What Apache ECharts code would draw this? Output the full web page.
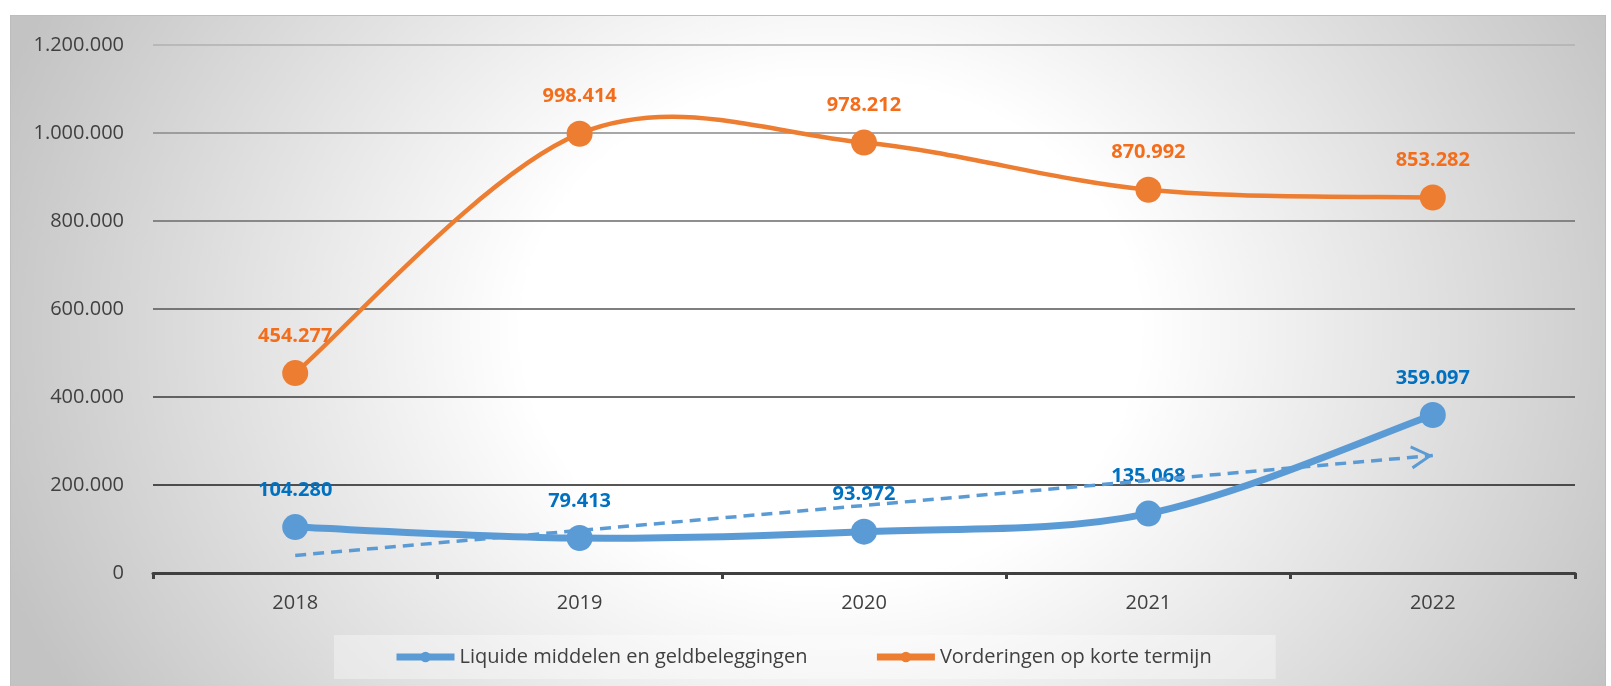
<!DOCTYPE html>
<html>
<head>
<meta charset="utf-8">
<script src="https://cdn.jsdelivr.net/npm/echarts@6.0.0/dist/echarts.min.js"></script>
<style>
  html, body { margin: 0; padding: 0; background: #fff; }
  #bg {
    position: absolute; left: 10px; top: 15px; width: 1594px; height: 680px;
    border-left: 1.5px solid #bdbdbd; border-top: 1.5px solid #bdbdbd; border-right: 1.5px solid #bdbdbd;
    background: radial-gradient(ellipse 880px 720px at 820px 315px, #ffffff 0%, #ffffff 35%, #c3c3c3 100%);
  }
  #chart { position: absolute; left: 0; top: 0; width: 1611px; height: 686px; }
</style>
</head>
<body>
<div id="bg"></div>
<div id="chart"></div>
<script>
// jaren
const years = ['2018', '2019', '2020', '2021', '2022'];
// Liquide middelen en geldbeleggingen
const liquide = [104280, 79413, 93972, 135068, 359097];
// Vorderingen op korte termijn
const vorderingen = [454277, 998414, 978212, 870992, 853282];
// trendlijn liquide middelen (begin en eind)
const trendStart = 40000;
const trendEnd = 267000;

const NAME_L = 'Liquide middelen en geldbeleggingen';
const NAME_V = 'Vorderingen op korte termijn';
const BLUE = '#5b9bd5';
const ORANGE = '#ed7d31';

const fmt = v => String(Math.round(v)).replace(/\B(?=(\d{3})+(?!\d))/g, '.');
const FONT = '"Open Sans", "Noto Sans", sans-serif';

// gridline kleuren van onder naar boven
const gridColors = ['#404040', '#1e1e1e', '#3a3a3a', '#555555', '#6a6a6a', '#8a8a8a', '#b0b0b0'];

// pijlpunt (open V), punt ligt in het midden van het kader
const arrowPath = 'path://M10,0 L20,19 L17.6,20.2 L10,5.2 L2.4,20.2 L0,19 Z M10,-20 L10.01,-20 L10,-19.99 Z';

// vloeiende lijn zoals in Excel (catmull-rom), per segment getekend
function curve(id, values, color, width) {
  const n = values.length;
  return {
    id: id,
    type: 'custom',
    silent: true,
    z: 2,
    data: values.map((v, i) => [i, v]),
    encode: { x: 0, y: 1 },
    renderItem: (params, api) => {
      const i = params.dataIndex;
      if (i >= n - 1) return null;
      const pt = k => {
        const j = Math.max(0, Math.min(n - 1, k));
        return api.coord([j, values[j]]);
      };
      const p0 = pt(i - 1), p1 = pt(i), p2 = pt(i + 1), p3 = pt(i + 2);
      const t = 1 / 6;
      return {
        type: 'bezierCurve',
        shape: {
          x1: p1[0], y1: p1[1], x2: p2[0], y2: p2[1],
          cpx1: p1[0] + (p2[0] - p0[0]) * t, cpy1: p1[1] + (p2[1] - p0[1]) * t,
          cpx2: p2[0] - (p3[0] - p1[0]) * t, cpy2: p2[1] - (p3[1] - p1[1]) * t
        },
        style: { stroke: color, lineWidth: width, fill: null, lineCap: 'round' }
      };
    }
  };
}

function points(name, values, color, labelColor) {
  return {
    name: name,
    type: 'line',
    data: values,
    symbol: 'circle',
    symbolSize: 26,
    z: 3,
    lineStyle: { color: color, width: 0, opacity: 0 },
    itemStyle: { color: color, borderWidth: 0 },
    label: {
      show: true, position: 'top', distance: 14,
      color: labelColor, fontSize: 20, fontWeight: 'bold', fontFamily: FONT,
      formatter: p => fmt(p.value)
    }
  };
}

const chart = echarts.init(document.getElementById('chart'));

chart.setOption({
  backgroundColor: 'transparent',
  animation: false,
  textStyle: { fontFamily: FONT },
  grid: { left: 153, right: 36, top: 45, bottom: 113, containLabel: false },
  legend: {
    data: [
      { name: NAME_L, lineStyle: { color: BLUE, width: 7, opacity: 1 }, itemStyle: { color: BLUE } },
      { name: NAME_V, lineStyle: { color: ORANGE, width: 7, opacity: 1 }, itemStyle: { color: ORANGE } }
    ],
    left: 334, top: 635,
    padding: [12, 64, 12, 59],
    itemGap: 66,
    itemWidth: 58,
    itemHeight: 13,
    backgroundColor: 'rgba(255,255,255,0.35)',
    textStyle: { fontFamily: FONT, fontSize: 20, color: '#404040' }
  },
  xAxis: {
    type: 'category',
    data: years,
    boundaryGap: true,
    axisLine: { lineStyle: { color: '#404040', width: 3 } },
    axisTick: { show: true, length: 6, lineStyle: { color: '#404040', width: 3 } },
    axisLabel: { color: '#404040', fontSize: 20, margin: 20, fontFamily: FONT },
    splitLine: { show: false }
  },
  yAxis: {
    type: 'value',
    min: 0, max: 1200000, interval: 200000,
    axisLine: { show: false },
    axisTick: { show: false },
    axisLabel: { color: '#404040', fontSize: 20, margin: 29, fontFamily: FONT, formatter: fmt },
    splitLine: { lineStyle: { color: gridColors, width: 1.6 } }
  },
  series: [
    curve('curveL', liquide, BLUE, 7),
    curve('curveV', vorderingen, ORANGE, 4.5),
    points(NAME_L, liquide, BLUE, '#0070c0'),
    points(NAME_V, vorderingen, ORANGE, '#f46d1b'),
    {
      name: 'trend',
      type: 'line',
      data: [],
      z: 4,
      silent: true,
      markLine: {
        silent: true,
        animation: false,
        symbol: ['none', arrowPath],
        symbolSize: [24, 44],
        label: { show: false },
        lineStyle: { color: BLUE, width: 3.5, type: [11, 7] },
        emphasis: { disabled: true },
        data: [[
          { coord: [years[0], trendStart] },
          { coord: [years[years.length - 1], trendEnd] }
        ]]
      }
    }
  ]
});
</script>
</body>
</html>
